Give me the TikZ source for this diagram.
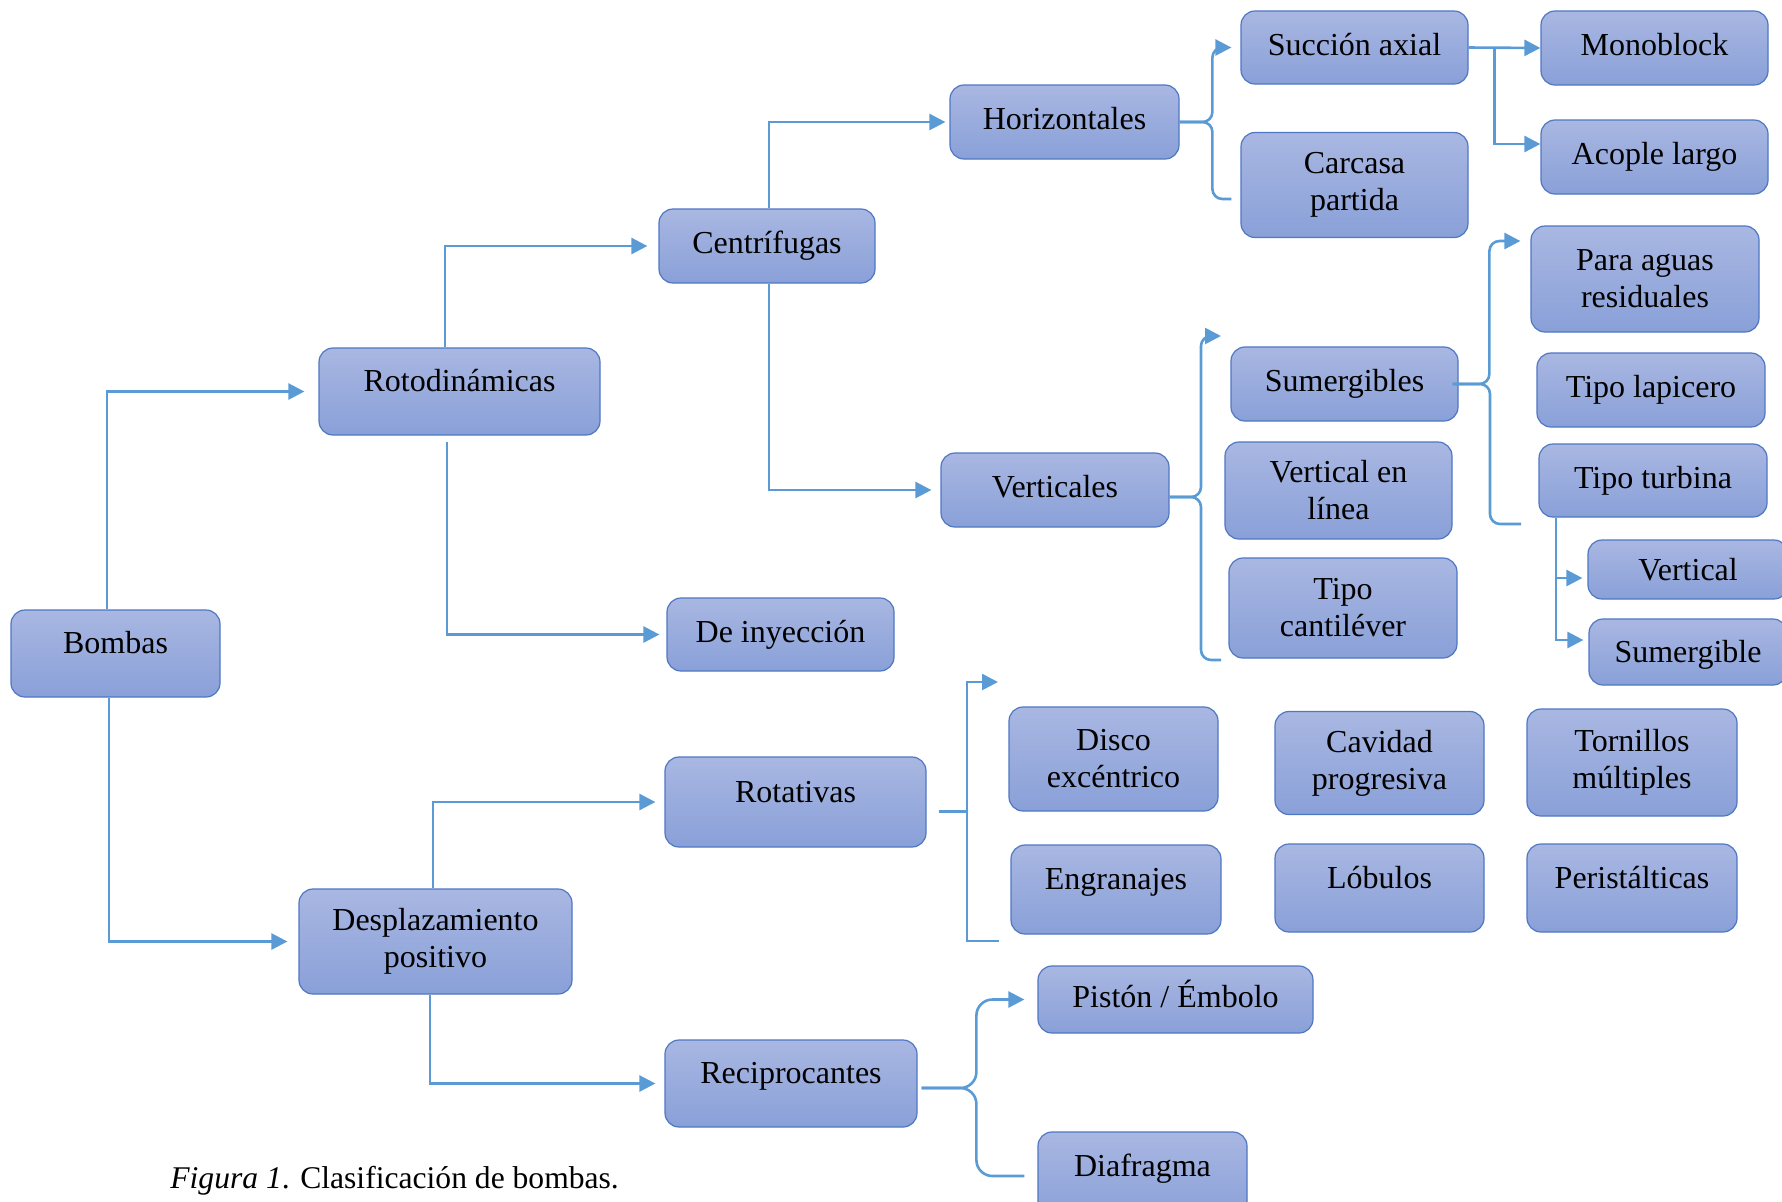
\documentclass[tikz,border=0pt]{standalone}
\usepackage{fontspec}
\setmainfont{Liberation Serif}
\usepackage{tikz}
\usetikzlibrary{arrows.meta}

\definecolor{boxtop}{RGB}{169,183,226}
\definecolor{boxbot}{RGB}{137,160,216}
\definecolor{boxline}{RGB}{79,119,196}
\definecolor{linkblue}{RGB}{91,155,213}

\begin{document}
\begin{tikzpicture}[
            x = 0.5pt, y = -0.5pt, % pixel grid, y downwards
            > = {Triangle[length=8pt,width=8pt]}, % arrow head style
            font = \fontsize{16}{18.5}\selectfont
        ]

        \tikzstyle{box}=[
            draw = boxline,
            line width = 0.6pt,
            rounded corners = 7pt,
            top color = boxtop,
            bottom color = boxbot,
            align = center,
            inner sep = 2pt
        ]
        \tikzstyle{oneline}=[text height = 11pt, text depth = 3.5pt]
        \tikzstyle{droptext}=[text height = 14pt, text depth = 3.5pt]
        \tikzstyle{raisetext}=[text height = 8pt, text depth = 8pt]
        \tikzstyle{conn}=[draw = linkblue, line width = 1.3pt]
        \tikzstyle{connarrow}=[conn, ->]

        \useasboundingbox (0,0) rectangle (1782,1201);
        \clip (0,0) rectangle (1782,1201);

	% main classes
        \node[box, raisetext, minimum width=104.5pt, minimum height=43.5pt] (B) at (115.5,653.5) {Bombas};
        \node[box, raisetext, minimum width=140.5pt, minimum height=43.5pt] (RD) at (459.5,391.5) {Rotodinámicas};
        \node[box, minimum width=136.5pt, minimum height=52.5pt] (DP) at (435.5,941.5) {Desplazamiento\\positivo};

        \node[box, oneline, minimum width=108pt, minimum height=37pt] (CF) at (767,246) {Centrífugas};
        \node[box, oneline, minimum width=113.5pt, minimum height=36.5pt] (DI) at (780.5,634.5) {De inyección};
        \node[box, raisetext, minimum width=130.5pt, minimum height=45pt] (RT) at (795.5,802) {Rotativas};
        \node[box, raisetext, minimum width=126pt, minimum height=43.5pt] (RC) at (791,1083.5) {Reciprocantes};

        \path[connarrow, shorten >=7pt] ([xshift=-4.25pt]B.north) |- (RD.west);
        \path[connarrow, shorten >=5.5pt] ([xshift=-3.25pt]B.south) |- (DP.west);
        \path[connarrow, shorten >=5.5pt] ([xshift=-7.25pt]RD.north) |- (CF.west);
        \path[connarrow, shorten >=3.5pt, shorten <=3pt] ([xshift=-6.25pt]RD.south) |- (DI.west);
        \path[connarrow, shorten >=4.5pt] ([xshift=-1.25pt]DP.north) |- (RT.west);
        \path[connarrow, shorten >=4.5pt] ([xshift=-2.75pt]DP.south) |- (RC.west);

	% centrifugas
        \node[box, oneline, minimum width=114.5pt, minimum height=37pt] (H) at (1064.5,122) {Horizontales};
        \node[box, oneline, minimum width=114pt, minimum height=37pt] (V) at (1055,490) {Verticales};

        \path[connarrow, shorten >=2pt] ([xshift=1pt]CF.north) |- (H.west);
        \path[connarrow, shorten >=4.5pt] ([xshift=1pt]CF.south) |- (V.west);

        \node[box, oneline, minimum width=113.5pt, minimum height=36.5pt] (SA) at (1354.5,47.5) {Succión axial};
        \node[box, minimum width=113.5pt, minimum height=52.5pt] (CP) at (1354.5,185) {Carcasa\\partida};
        \node[box, oneline, minimum width=113.5pt, minimum height=37pt] (MB) at (1654.5,48) {Monoblock};
        \node[box, oneline, minimum width=113.5pt, minimum height=37pt] (AL) at (1654.5,157) {Acople largo};

        \path[connarrow, rounded corners=5pt, shorten >=4.5pt] (H.east) -| ([xshift=-14pt]SA.west) -- (SA.west);
        \path[conn, rounded corners=5pt, shorten >=4.5pt] (H.east) -| ([xshift=-14pt,yshift=-7pt]CP.west) -- ([yshift=-7pt]CP.west);
        \path[connarrow] (SA.east) -- (MB.west);
        \path[connarrow] ([xshift=13pt]SA.east) |- ([yshift=6.5pt]AL.west);

        \node[box, oneline, minimum width=113.5pt, minimum height=37pt] (SG) at (1344.5,384) {Sumergibles};
        \node[box, minimum width=113.5pt, minimum height=48.5pt] (VL) at (1338.5,490.5) {Vertical en\\línea};
        \node[box, minimum width=114pt, minimum height=50pt] (TC) at (1343,608) {Tipo\\cantiléver};

        \coordinate (Vtop) at (1221,336);
        \coordinate (Vbot) at (1221,660);
        \path[connarrow, rounded corners=5pt] ([yshift=-3.5pt]V.east) -| ([xshift=-10pt]Vtop) -- (Vtop);
        \path[conn, rounded corners=5pt] ([yshift=-3.5pt]V.east) -| ([xshift=-10pt]Vbot) -- (Vbot);

        \node[box, minimum width=114pt, minimum height=53pt] (PA) at (1645,279) {Para aguas\\residuales};
        \node[box, oneline, minimum width=114pt, minimum height=37pt] (TL) at (1651,390) {Tipo lapicero};
        \node[box, oneline, minimum width=114pt, minimum height=36.5pt] (TT) at (1653,480.5) {Tipo turbina};
        \node[box, droptext, minimum width=100pt, minimum height=29.5pt] (VT) at (1688,569.5) {Vertical};
        \node[box, droptext, minimum width=99pt, minimum height=33pt] (SB) at (1688,652) {Sumergible};

        \coordinate (Sbot) at (1521,524);
        \path[connarrow, rounded corners=5pt, shorten >=5pt] ([xshift=-3pt]SG.east) -| ([xshift=-20.5pt,yshift=19pt]PA.west) -- ([yshift=19pt]PA.west);
        \path[conn, rounded corners=5pt] ([xshift=-3pt]SG.east) -| ([xshift=-15.5pt]Sbot) -- (Sbot);
        \path[connarrow, shorten >=2.5pt] ([xshift=-48.5pt]TT.south) |- ([yshift=-4.25pt]VT.west);
        \path[connarrow, shorten >=2.5pt] ([xshift=-48.5pt]TT.south) |- ([yshift=6pt]SB.west);

	% rotativas
        \node[box, minimum width=104.5pt, minimum height=52pt] (DE) at (1113.5,759) {Disco\\excéntrico};
        \node[box, minimum width=104.5pt, minimum height=51.5pt] (CV) at (1379.5,763) {Cavidad\\progresiva};
        \node[box, minimum width=105pt, minimum height=53.5pt] (TM) at (1632,762.5) {Tornillos\\múltiples};
        \node[box, raisetext, minimum width=105pt, minimum height=44.5pt] (EN) at (1116,889.5) {Engranajes};
        \node[box, raisetext, minimum width=104.5pt, minimum height=44pt] (LB) at (1379.5,888) {Lóbulos};
        \node[box, raisetext, minimum width=105pt, minimum height=44pt] (PS) at (1632,888) {Peristálticas};

        \coordinate (Rtop) at (998,682);
        \coordinate (Rbot) at (999,941);
        \path[connarrow] ([xshift=6pt,yshift=-4.75pt]RT.east) -| ([xshift=-15.5pt]Rtop) -- (Rtop);
        \path[conn] ([xshift=6pt,yshift=-4.75pt]RT.east) -| ([xshift=-16pt]Rbot) -- (Rbot);

	% reciprocantes
        \node[box, oneline, minimum width=137.5pt, minimum height=33.5pt] (PI) at (1175.5,999.5) {Pistón / Émbolo};
        \node[box, raisetext, minimum width=104.5pt, minimum height=44pt] (DF) at (1142.5,1176) {Diafragma};

        \path[connarrow, rounded corners=8pt, shorten >=6.5pt] ([xshift=2pt,yshift=-2.25pt]RC.east) -| ([xshift=-30.5pt]PI.west) -- (PI.west);
        \path[conn, rounded corners=8pt, shorten >=6.5pt] ([xshift=2pt,yshift=-2.25pt]RC.east) -| ([xshift=-30.5pt]DF.west) -- (DF.west);

	% caption
        \node[anchor=west, inner sep=0pt, font=\fontsize{15.8}{18}\selectfont] (cap) at (170,1180.5) {\textit{Figura 1}. Clasificación de bombas.};

\end{tikzpicture}
\end{document}
